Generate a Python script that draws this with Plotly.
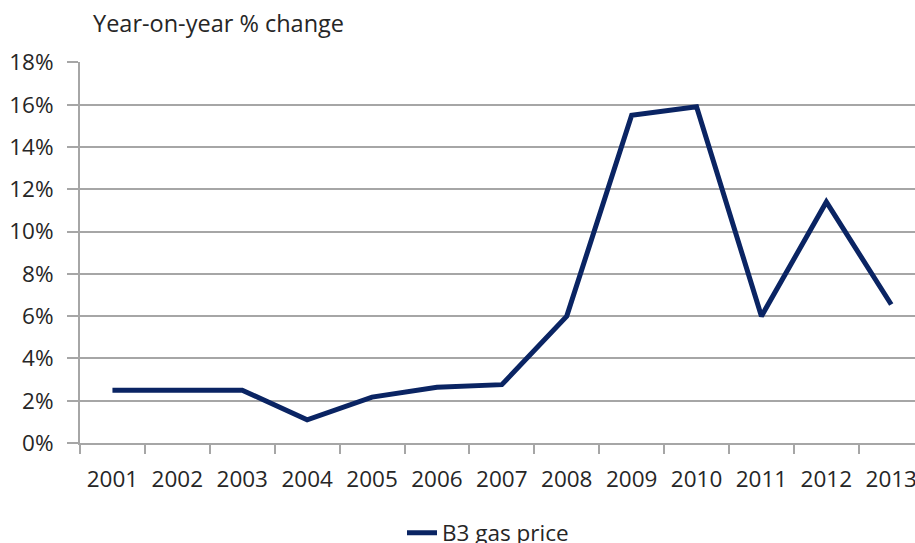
import plotly.graph_objects as go

# Annual year-on-year change in the B3 gas price
years = ["2001", "2002", "2003", "2004", "2005", "2006", "2007",
         "2008", "2009", "2010", "2011", "2012", "2013"]
b3_gas_price = [0.025, 0.025, 0.025, 0.011, 0.0217, 0.0264, 0.0276,
                0.060, 0.155, 0.159, 0.060, 0.114, 0.0655]
y_ticks = [0.00, 0.02, 0.04, 0.06, 0.08, 0.10, 0.12, 0.14, 0.16, 0.18]

FONT = "Open Sans"
TEXT = "#262626"
GRID = "#a6a6a6"
NAVY = "#0a2463"

W, H = 915, 543
M_L, M_R, M_T, M_B = 80, 0, 62, 100

fig = go.Figure()
fig.add_trace(go.Scatter(
    x=years, y=b3_gas_price, mode="lines", name="B3 gas price",
    line=dict(color=NAVY, width=5),
))

# categories are ~64.9px wide; the plot runs slightly off the right edge
cat_px = 64.9
plot_w = W - M_L - M_R
x_hi = -0.5 + plot_w / cat_px

fig.update_layout(
    width=W, height=H,
    margin=dict(l=M_L, r=M_R, t=M_T, b=M_B, autoexpand=False),
    paper_bgcolor="white", plot_bgcolor="white",
    font=dict(family=FONT, size=22.5, color=TEXT),
    title=dict(text="Year-on-year % change", x=93 / W, xref="container",
               xanchor="left", y=1 - 24 / H, yanchor="middle",
               font=dict(family=FONT, size=23.5, color=TEXT)),
    showlegend=True,
    legend=dict(orientation="h", x=(402 - M_L) / plot_w, xanchor="left",
                yref="container", y=1 - 533 / H, yanchor="middle",
                font=dict(family=FONT, size=22.5, color=TEXT),
                bgcolor="rgba(0,0,0,0)"),
    xaxis=dict(type="category", range=[-0.5, x_hi],
               showgrid=False, showline=True, linecolor=GRID, linewidth=2,
               ticks="outside", tickson="boundaries", ticklen=9,
               tickcolor=GRID, tickwidth=2, ticklabelstandoff=15,
               zeroline=False),
    yaxis=dict(range=[0, 0.1802], tickvals=y_ticks, tickformat=".0%",
               showgrid=True, gridcolor=GRID, gridwidth=2,
               showline=True, linecolor=GRID, linewidth=2,
               ticks="outside", ticklen=11, tickcolor=GRID, tickwidth=2,
               ticklabelstandoff=9, zeroline=False),
)

fig.write_html("out.html")
